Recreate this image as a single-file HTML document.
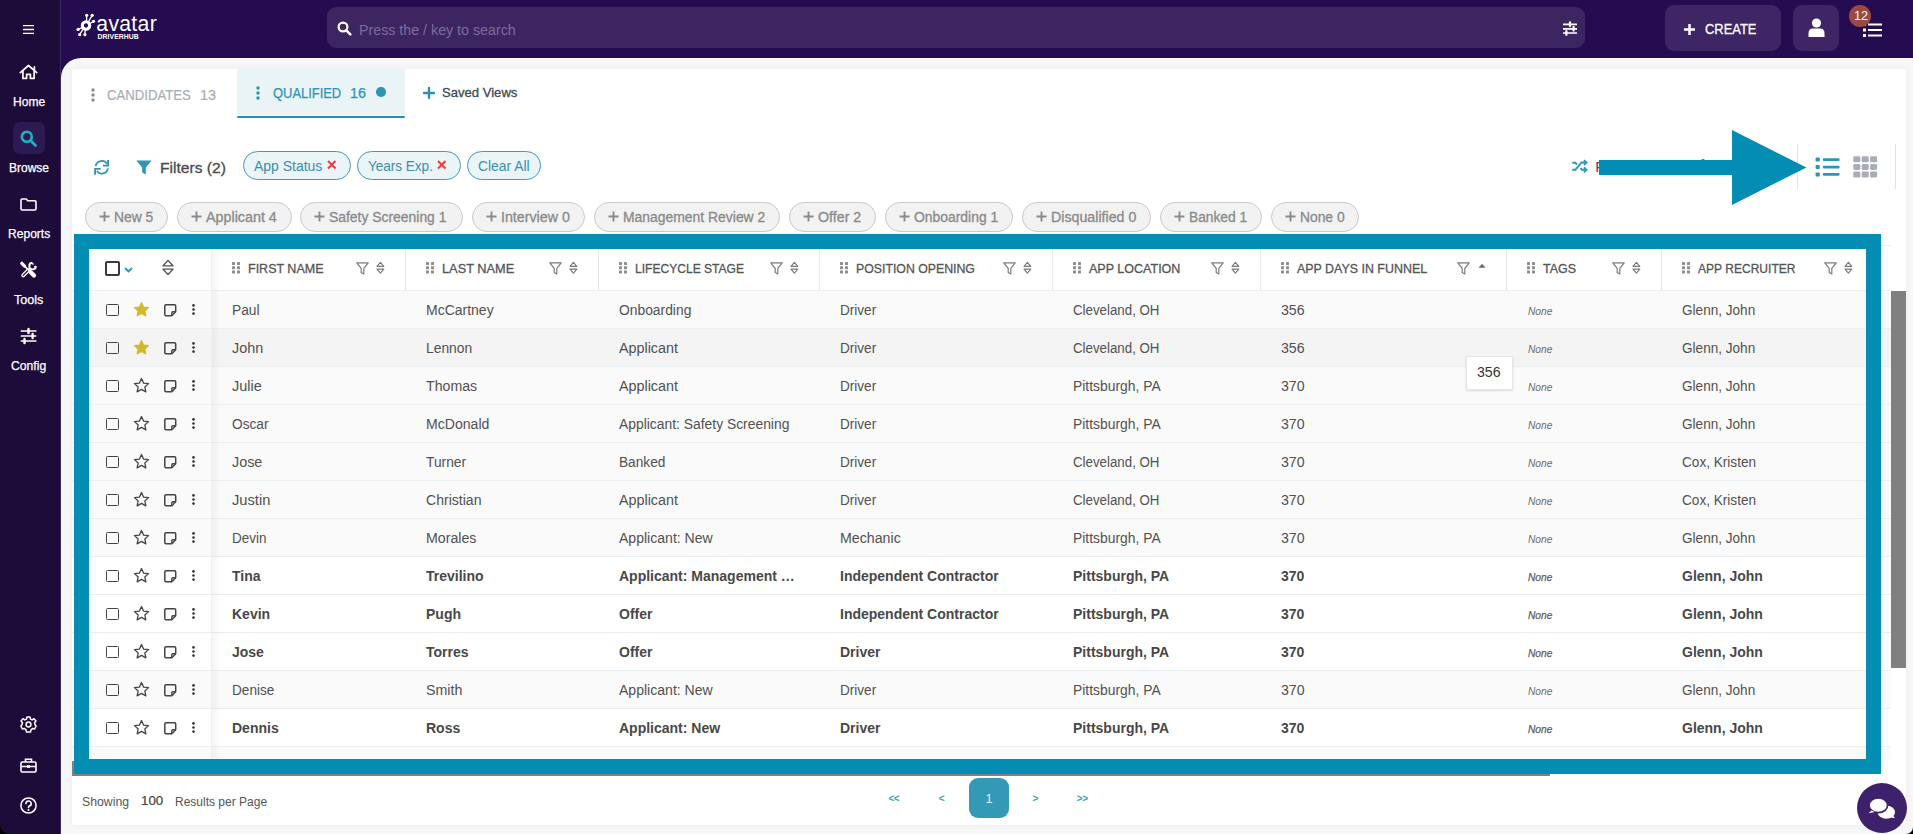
<!DOCTYPE html>
<html><head><meta charset="utf-8"><title>Avatar DriverHub</title>
<style>
html,body{margin:0;padding:0;width:1913px;height:834px;overflow:hidden;background:#250b4f;}
body{position:relative;font-family:"Liberation Sans", Arial, sans-serif;}
.a{position:absolute;}
.t{position:absolute;white-space:nowrap;font-family:"Liberation Sans", Arial, sans-serif;}
svg.a{overflow:visible;}
</style></head><body>
<div class="a" style="left:0px;top:0px;width:60px;height:834px;background:#1d0c3a"></div>
<div class="a" style="left:60px;top:0px;width:1px;height:834px;background:#3b2a5d"></div>
<div class="a" style="left:61px;top:0px;width:1852px;height:60px;background:#250b4f"></div>
<div class="a" style="left:61px;top:58px;width:1852px;height:776px;background:#f7f7f7;border-top-left-radius:20px"></div>
<div class="a" style="left:81px;top:58px;width:1832px;height:1px;background:#ffffff"></div>
<div class="a" style="left:72px;top:69px;width:1834px;height:756px;background:#fff;border-radius:3px;box-shadow:0 0 7px rgba(0,0,0,0.05)"></div>
<svg class="a" style="left:22px;top:24px;" width="13" height="11" viewBox="0 0 13 11"><path d="M1 1.7H12M1 5.5H12M1 9.3H12" stroke="#ffffff" stroke-width="1.3" fill="none"/></svg>
<svg class="a" style="left:19px;top:64px;" width="19" height="16" viewBox="0 0 19 16"><path d="M1.3 8.6L9.5 1.5L17.7 8.6M3.9 6.6V14.4H7.6V10.3H11.4V14.4H15.1V6.6M15.4 6.3V2.8" stroke="#ffffff" stroke-width="1.7" fill="none" stroke-linejoin="round" stroke-linecap="round"/></svg>
<div class="t " style="left:13px;top:95.84px;font-size:12.0px;line-height:12.0px;color:#ffffff;font-weight:normal;-webkit-text-stroke:0.25px #ffffff;transform:scaleX(1.0059);transform-origin:0 0;">Home</div>
<div class="a" style="left:13px;top:122px;width:32px;height:32px;background:#2e1a52;border-radius:7px"></div>
<svg class="a" style="left:20px;top:130px;" width="17" height="17" viewBox="0 0 17 17"><circle cx="6.8" cy="6.8" r="5" stroke="#19b3c6" stroke-width="2.6" fill="none"/><path d="M10.5 10.5L15.5 15.5" stroke="#19b3c6" stroke-width="2.8" stroke-linecap="round"/></svg>
<div class="t " style="left:8.6px;top:162.04px;font-size:12.0px;line-height:12.0px;color:#ffffff;font-weight:normal;-webkit-text-stroke:0.25px #ffffff;transform:scaleX(0.9996);transform-origin:0 0;">Browse</div>
<svg class="a" style="left:20px;top:198px;" width="17" height="13" viewBox="0 0 17 13"><path d="M1 2.2Q1 1 2.2 1H6.2L7.8 2.8H14.8Q16 2.8 16 4V10.8Q16 12 14.8 12H2.2Q1 12 1 10.8Z" stroke="#ffffff" stroke-width="1.6" fill="none" stroke-linejoin="round"/></svg>
<div class="t " style="left:7.7px;top:228.14px;font-size:12.0px;line-height:12.0px;color:#ffffff;font-weight:normal;-webkit-text-stroke:0.25px #ffffff;transform:scaleX(1.0052);transform-origin:0 0;">Reports</div>
<svg class="a" style="left:20px;top:262px;" width="17" height="16" viewBox="0 0 17 16"><path d="M3.2 13.4L8.6 8" stroke="#ffffff" stroke-width="3.9" stroke-linecap="round"/><path d="M3.2 13.4L8.6 8" stroke="#1d0c3a" stroke-width="1.3" stroke-linecap="round"/><path d="M15.9 4.2A3.3 3.3 0 1 1 12.2 0.8" stroke="#ffffff" stroke-width="1.9" fill="none"/><path d="M12.2 0.8L13.4 2.6M15.9 4.2L14.2 5.2" stroke="#ffffff" stroke-width="1.4"/><path d="M1.8 1.3L4.6 4.1" stroke="#ffffff" stroke-width="3.2" stroke-linecap="round"/><path d="M4.6 4.1L10.4 9.9" stroke="#ffffff" stroke-width="1.5"/><path d="M10.8 10.3L14 13.5" stroke="#ffffff" stroke-width="4.2" stroke-linecap="round"/></svg>
<div class="t " style="left:13.9px;top:294.14px;font-size:12.0px;line-height:12.0px;color:#ffffff;font-weight:normal;-webkit-text-stroke:0.25px #ffffff;transform:scaleX(1.0480);transform-origin:0 0;">Tools</div>
<svg class="a" style="left:20px;top:329px;" width="17" height="14" viewBox="0 0 17 14"><path d="M0.7 2H16.4M0.7 7H16.4M0.7 12H16.4" stroke="#ffffff" stroke-width="1.7"/><path d="M8.5 0V4M12.6 5V9M4.5 10V14" stroke="#ffffff" stroke-width="2.4" stroke-linecap="round"/></svg>
<div class="t " style="left:10.8px;top:360.14px;font-size:12.0px;line-height:12.0px;color:#ffffff;font-weight:normal;-webkit-text-stroke:0.25px #ffffff;transform:scaleX(1.0131);transform-origin:0 0;">Config</div>
<svg class="a" style="left:20px;top:716px;" width="17" height="17" viewBox="0 0 17 17"><g transform="translate(8.5 8.5)" stroke="#ffffff" stroke-width="1.5" fill="none" stroke-linejoin="round"><path d="M-1.5 -7.5H1.5L2 -5.4L3.6 -4.6L5.5 -5.8L7.5 -3.6L6 -1.8L6.4 0L7.6 1.5L6.2 4.4L4.2 3.9L2.5 5.3L2 7.5H-2L-2.5 5.3L-4.2 3.9L-6.2 4.4L-7.6 1.5L-6.4 0L-6 -1.8L-7.5 -3.6L-5.5 -5.8L-3.6 -4.6L-2 -5.4Z"/><circle r="2.4"/></g></svg>
<svg class="a" style="left:20px;top:758px;" width="17" height="15" viewBox="0 0 17 15"><rect x="1" y="4" width="15" height="10" rx="1.2" stroke="#ffffff" stroke-width="1.6" fill="none"/><path d="M5.5 4V1.2H11.5V4M1 8.5H16" stroke="#ffffff" stroke-width="1.6" fill="none"/><rect x="7" y="7.2" width="3" height="2.6" fill="#ffffff"/></svg>
<svg class="a" style="left:20px;top:797px;" width="17" height="17" viewBox="0 0 17 17"><circle cx="8.5" cy="8.5" r="7.6" stroke="#ffffff" stroke-width="1.5" fill="none"/><path d="M6 6.6A2.6 2.6 0 1 1 9.4 9.1Q8.5 9.5 8.5 10.6" stroke="#ffffff" stroke-width="1.6" fill="none" stroke-linecap="round"/><circle cx="8.5" cy="12.9" r="1" fill="#ffffff"/></svg>
<svg class="a" style="left:76px;top:13px;" width="22" height="24" viewBox="0 0 22 24"><g stroke="#ffffff" fill="none" stroke-width="1.3"><circle cx="10" cy="12.5" r="3.7" stroke-width="3.1"/><path d="M10.6 2.3V8.2M16.2 2.3L12.6 8.6M17.5 8.3L13.8 10.6M2.1 16.4L6.3 14.6M3.7 21.7L7.2 15.8M8.9 21.7L9.2 16.6"/></g><g fill="#ffffff"><circle cx="10.7" cy="2.3" r="1.6"/><circle cx="16.2" cy="2.3" r="1.6"/><circle cx="17.5" cy="8.3" r="1.6"/><circle cx="2.1" cy="16.4" r="1.6"/><circle cx="3.7" cy="21.7" r="1.6"/><circle cx="8.9" cy="21.7" r="1.6"/></g></svg>
<div class="t " style="left:96.3px;top:13.45px;font-size:21.2px;line-height:21.2px;color:#ffffff;font-weight:normal;letter-spacing:0.3px;">avatar</div>
<div class="t " style="left:97.6px;top:33.56px;font-size:6.9px;line-height:6.9px;color:#ffffff;font-weight:bold;letter-spacing:0.02px;">DRIVERHUB</div>
<div class="a" style="left:327px;top:7px;width:1258px;height:41px;background:#3d2562;border-radius:9px"></div>
<svg class="a" style="left:336.6px;top:21.3px;" width="15" height="15" viewBox="0 0 15 15"><circle cx="6" cy="6" r="4.4" stroke="#ffffff" stroke-width="2.2" fill="none"/><path d="M9.3 9.3L13.3 13.3" stroke="#ffffff" stroke-width="2.6" stroke-linecap="round"/></svg>
<div class="t " style="left:359px;top:22.50px;font-size:14.3px;line-height:14.3px;color:#7f6c9c;font-weight:normal;transform:scaleX(0.9959);transform-origin:0 0;">Press the / key to search</div>
<svg class="a" style="left:1562px;top:22px;" width="15" height="13" viewBox="0 0 15 13"><path d="M1 2.3H15M1 6.8H15M1 11H15" stroke="#ffffff" stroke-width="1.7"/><path d="M8 0.5V4.1M11.6 5V8.6M4.4 9.2V12.8" stroke="#ffffff" stroke-width="2.3" stroke-linecap="round"/></svg>
<div class="a" style="left:1665px;top:5px;width:116px;height:46px;background:#3e2563;border-radius:9px"></div>
<svg class="a" style="left:1683.6px;top:23.8px;" width="11" height="11" viewBox="0 0 11 11"><path d="M5.5 0V11M0 5.5H11" stroke="#ffffff" stroke-width="2.5"/></svg>
<div class="t " style="left:1704.6px;top:21.88px;font-size:14.2px;line-height:14.2px;color:#ffffff;font-weight:normal;-webkit-text-stroke:0.3px #ffffff;transform:scaleX(0.9098);transform-origin:0 0;">CREATE</div>
<div class="a" style="left:1793px;top:5px;width:46px;height:46px;background:#3e2563;border-radius:9px"></div>
<svg class="a" style="left:1808px;top:18px;" width="17" height="20" viewBox="0 0 17 20"><circle cx="8.5" cy="5" r="4.6" fill="#ffffff"/><path d="M0.5 19V15.5Q0.5 10.6 5 10.6H12Q16.5 10.6 16.5 15.5V19Z" fill="#ffffff"/></svg>
<svg class="a" style="left:1863px;top:23px;" width="19" height="14" viewBox="0 0 19 14"><g fill="#ffffff"><rect x="0" y="0" width="3" height="3"/><rect x="0" y="5.5" width="3" height="3"/><rect x="0" y="11" width="3" height="3"/><rect x="5" y="0.5" width="14" height="2"/><rect x="5" y="6" width="14" height="2"/><rect x="5" y="11.5" width="14" height="2"/></g></svg>
<div class="a" style="left:1849px;top:5px;width:22px;height:22px;background:#9e4843;border-radius:50%"></div>
<div class="t " style="left:1853.5px;top:9.62px;font-size:12.5px;line-height:12.5px;color:#fff;font-weight:normal;transform:scaleX(1.0112);transform-origin:0 0;">12</div>
<svg class="a" style="left:91px;top:88px;" width="4" height="14" viewBox="0 0 4 14"><circle cx="2" cy="2" r="1.7" fill="#8c8c8c"/><circle cx="2" cy="7.0" r="1.7" fill="#8c8c8c"/><circle cx="2" cy="12" r="1.7" fill="#8c8c8c"/></svg>
<div class="t " style="left:107px;top:88.15px;font-size:14.0px;line-height:14.0px;color:#a7aeb6;font-weight:normal;-webkit-text-stroke:0.2px #a7aeb6;transform:scaleX(0.9396);transform-origin:0 0;">CANDIDATES</div>
<div class="t " style="left:199.5px;top:88.15px;font-size:14.0px;line-height:14.0px;color:#a7aeb6;font-weight:normal;-webkit-text-stroke:0.2px #a7aeb6;transform:scaleX(1.0221);transform-origin:0 0;">13</div>
<div class="a" style="left:237px;top:69px;width:168px;height:46px;background:#eaf3f6"></div>
<div class="a" style="left:237px;top:115.7px;width:168px;height:2.3px;background:#2191b0;border-radius:1.2px"></div>
<svg class="a" style="left:256px;top:86px;" width="4" height="14" viewBox="0 0 4 14"><circle cx="2" cy="2" r="1.7" fill="#2b92b1"/><circle cx="2" cy="7.0" r="1.7" fill="#2b92b1"/><circle cx="2" cy="12" r="1.7" fill="#2b92b1"/></svg>
<div class="t " style="left:272.5px;top:86.15px;font-size:14.0px;line-height:14.0px;color:#2f95b3;font-weight:normal;-webkit-text-stroke:0.25px #2f95b3;transform:scaleX(0.9228);transform-origin:0 0;">QUALIFIED</div>
<div class="t " style="left:349.5px;top:86.15px;font-size:14.0px;line-height:14.0px;color:#2f95b3;font-weight:normal;-webkit-text-stroke:0.25px #2f95b3;transform:scaleX(1.0221);transform-origin:0 0;">16</div>
<div class="a" style="left:376.2px;top:87px;width:9.6px;height:9.6px;background:#2b96b4;border-radius:50%"></div>
<svg class="a" style="left:423px;top:87.2px;" width="12" height="12" viewBox="0 0 12 12"><path d="M6 1V11M1 6H11" stroke="#2b92b1" stroke-width="2.3" stroke-linecap="round"/></svg>
<div class="t " style="left:442px;top:85.94px;font-size:13.3px;line-height:13.3px;color:#414951;font-weight:normal;-webkit-text-stroke:0.3px #414951;transform:scaleX(0.9835);transform-origin:0 0;">Saved Views</div>
<svg class="a" style="left:93px;top:159px;" width="17" height="16" viewBox="0 0 17 16"><g stroke="#2f95b3" stroke-width="1.8" fill="none"><path d="M2.62 7.0A6.3 6.3 0 0 1 14.02 4.68"/><path d="M14.98 9.4A6.3 6.3 0 0 1 3.77 11.99"/><path d="M10 6.7H15.1V0.9"/><path d="M2.1 15.8V9.9H7.6"/></g></svg>
<svg class="a" style="left:136px;top:160px;" width="16" height="15" viewBox="0 0 16 15"><path d="M0.3 0.5H15.7L9.8 7.4V14.6L6.2 12.4V7.4Z" fill="#2f95b3"/></svg>
<div class="t " style="left:159.5px;top:160.45px;font-size:15.3px;line-height:15.3px;color:#4a4a4a;font-weight:normal;-webkit-text-stroke:0.3px #4a4a4a;transform:scaleX(1.0208);transform-origin:0 0;">Filters (2)</div>
<div class="a" style="left:243px;top:151px;width:108px;height:29px;background:#ebf4f7;border:1.2px solid #3f9ab7;border-radius:15px;box-sizing:border-box"></div>
<div class="t " style="left:254px;top:159.05px;font-size:14.0px;line-height:14.0px;color:#3a8fae;font-weight:normal;transform:scaleX(0.9979);transform-origin:0 0;">App Status</div>
<svg class="a" style="left:327px;top:159.6px;" width="9.5" height="9.5" viewBox="0 0 9.5 9.5"><path d="M1 1L8.5 8.5M8.5 1L1 8.5" stroke="#f03e3e" stroke-width="2.1"/></svg>
<div class="a" style="left:357px;top:151px;width:104px;height:29px;background:#ebf4f7;border:1.2px solid #3f9ab7;border-radius:15px;box-sizing:border-box"></div>
<div class="t " style="left:368px;top:159.05px;font-size:14.0px;line-height:14.0px;color:#3a8fae;font-weight:normal;transform:scaleX(0.9658);transform-origin:0 0;">Years Exp.</div>
<svg class="a" style="left:437px;top:159.6px;" width="9.5" height="9.5" viewBox="0 0 9.5 9.5"><path d="M1 1L8.5 8.5M8.5 1L1 8.5" stroke="#f03e3e" stroke-width="2.1"/></svg>
<div class="a" style="left:467px;top:151px;width:74px;height:29px;background:#ebf4f7;border:1.2px solid #3f9ab7;border-radius:15px;box-sizing:border-box"></div>
<div class="t " style="left:478px;top:159.05px;font-size:14.0px;line-height:14.0px;color:#3a8fae;font-weight:normal;transform:scaleX(0.9919);transform-origin:0 0;">Clear All</div>
<svg class="a" style="left:1572px;top:159px;" width="16" height="14" viewBox="0 0 16 14"><g stroke="#2f95b3" stroke-width="1.9" fill="none"><path d="M0.2 3.8H3.4L5 5.6"/><path d="M0.2 10.8H3.4L9.5 3.5H13"/><path d="M8.7 9.1L9.9 10.8H13"/><path d="M12 1.2L14.5 3.6L12 6.1"/><path d="M12 8.3L14.5 10.8L12 13.3"/></g></svg>
<div class="t " style="left:1595.3px;top:159.53px;font-size:14.5px;line-height:14.5px;color:#454c55;font-weight:normal;">F</div>
<div class="a" style="left:1701px;top:158.6px;width:4.2px;height:2.2px;background:#0a7a9c;border-radius:2px 2px 0 0"></div>
<div class="a" style="left:1797px;top:144px;width:1px;height:45px;background:#dfe2e5"></div>
<div class="a" style="left:1895px;top:144px;width:1px;height:45px;background:#dfe2e5"></div>
<svg class="a" style="left:1815px;top:157px;" width="25" height="20" viewBox="0 0 25 20"><g fill="#2f95b3"><rect x="0.6" y="0.6" width="4.2" height="4" rx="0.9"/><rect x="0.6" y="8" width="4.2" height="4" rx="0.9"/><rect x="0.6" y="15.4" width="4.2" height="4" rx="0.9"/><rect x="7.8" y="1.3" width="16.8" height="2.7" rx="1.1"/><rect x="7.8" y="8.7" width="16.8" height="2.7" rx="1.1"/><rect x="7.8" y="16.1" width="16.8" height="2.7" rx="1.1"/></g></svg>
<svg class="a" style="left:1853px;top:156px;" width="25" height="22" viewBox="0 0 25 22"><g fill="#a9aeb6"><rect x="0.3" y="0.3" width="7" height="6" rx="1.3"/><rect x="8.700000000000001" y="0.3" width="7" height="6" rx="1.3"/><rect x="17.1" y="0.3" width="7" height="6" rx="1.3"/><rect x="0.3" y="7.8999999999999995" width="7" height="6" rx="1.3"/><rect x="8.700000000000001" y="7.8999999999999995" width="7" height="6" rx="1.3"/><rect x="17.1" y="7.8999999999999995" width="7" height="6" rx="1.3"/><rect x="0.3" y="15.5" width="7" height="6" rx="1.3"/><rect x="8.700000000000001" y="15.5" width="7" height="6" rx="1.3"/><rect x="17.1" y="15.5" width="7" height="6" rx="1.3"/></g></svg>
<div class="a" style="left:85px;top:202px;width:83px;height:30px;background:#f2f2f2;border:1px solid #c9c9c9;border-radius:15px;box-sizing:border-box"></div>
<svg class="a" style="left:99px;top:211.3px;" width="11" height="11" viewBox="0 0 11 11"><path d="M5.5 0.5V10.5M0.5 5.5H10.5" stroke="#8a8a8a" stroke-width="1.9"/></svg>
<div class="t " style="left:114px;top:210.35px;font-size:14.0px;line-height:14.0px;color:#8a8a8a;font-weight:normal;-webkit-text-stroke:0.3px #8a8a8a;transform:scaleX(0.9894);transform-origin:0 0;">New 5</div>
<div class="a" style="left:177px;top:202px;width:115px;height:30px;background:#f2f2f2;border:1px solid #c9c9c9;border-radius:15px;box-sizing:border-box"></div>
<svg class="a" style="left:191px;top:211.3px;" width="11" height="11" viewBox="0 0 11 11"><path d="M5.5 0.5V10.5M0.5 5.5H10.5" stroke="#8a8a8a" stroke-width="1.9"/></svg>
<div class="t " style="left:206px;top:210.35px;font-size:14.0px;line-height:14.0px;color:#8a8a8a;font-weight:normal;-webkit-text-stroke:0.3px #8a8a8a;transform:scaleX(1.0219);transform-origin:0 0;">Applicant 4</div>
<div class="a" style="left:300px;top:202px;width:163px;height:30px;background:#f2f2f2;border:1px solid #c9c9c9;border-radius:15px;box-sizing:border-box"></div>
<svg class="a" style="left:314px;top:211.3px;" width="11" height="11" viewBox="0 0 11 11"><path d="M5.5 0.5V10.5M0.5 5.5H10.5" stroke="#8a8a8a" stroke-width="1.9"/></svg>
<div class="t " style="left:329px;top:210.35px;font-size:14.0px;line-height:14.0px;color:#8a8a8a;font-weight:normal;-webkit-text-stroke:0.3px #8a8a8a;transform:scaleX(0.9927);transform-origin:0 0;">Safety Screening 1</div>
<div class="a" style="left:472px;top:202px;width:113px;height:30px;background:#f2f2f2;border:1px solid #c9c9c9;border-radius:15px;box-sizing:border-box"></div>
<svg class="a" style="left:486px;top:211.3px;" width="11" height="11" viewBox="0 0 11 11"><path d="M5.5 0.5V10.5M0.5 5.5H10.5" stroke="#8a8a8a" stroke-width="1.9"/></svg>
<div class="t " style="left:501px;top:210.35px;font-size:14.0px;line-height:14.0px;color:#8a8a8a;font-weight:normal;-webkit-text-stroke:0.3px #8a8a8a;transform:scaleX(1.0168);transform-origin:0 0;">Interview 0</div>
<div class="a" style="left:594px;top:202px;width:186px;height:30px;background:#f2f2f2;border:1px solid #c9c9c9;border-radius:15px;box-sizing:border-box"></div>
<svg class="a" style="left:608px;top:211.3px;" width="11" height="11" viewBox="0 0 11 11"><path d="M5.5 0.5V10.5M0.5 5.5H10.5" stroke="#8a8a8a" stroke-width="1.9"/></svg>
<div class="t " style="left:623px;top:210.35px;font-size:14.0px;line-height:14.0px;color:#8a8a8a;font-weight:normal;-webkit-text-stroke:0.3px #8a8a8a;transform:scaleX(0.9936);transform-origin:0 0;">Management Review 2</div>
<div class="a" style="left:789px;top:202px;width:87px;height:30px;background:#f2f2f2;border:1px solid #c9c9c9;border-radius:15px;box-sizing:border-box"></div>
<svg class="a" style="left:803px;top:211.3px;" width="11" height="11" viewBox="0 0 11 11"><path d="M5.5 0.5V10.5M0.5 5.5H10.5" stroke="#8a8a8a" stroke-width="1.9"/></svg>
<div class="t " style="left:818px;top:210.35px;font-size:14.0px;line-height:14.0px;color:#8a8a8a;font-weight:normal;-webkit-text-stroke:0.3px #8a8a8a;transform:scaleX(1.0169);transform-origin:0 0;">Offer 2</div>
<div class="a" style="left:885px;top:202px;width:128px;height:30px;background:#f2f2f2;border:1px solid #c9c9c9;border-radius:15px;box-sizing:border-box"></div>
<svg class="a" style="left:899px;top:211.3px;" width="11" height="11" viewBox="0 0 11 11"><path d="M5.5 0.5V10.5M0.5 5.5H10.5" stroke="#8a8a8a" stroke-width="1.9"/></svg>
<div class="t " style="left:914px;top:210.35px;font-size:14.0px;line-height:14.0px;color:#8a8a8a;font-weight:normal;-webkit-text-stroke:0.3px #8a8a8a;transform:scaleX(0.9930);transform-origin:0 0;">Onboarding 1</div>
<div class="a" style="left:1022px;top:202px;width:129px;height:30px;background:#f2f2f2;border:1px solid #c9c9c9;border-radius:15px;box-sizing:border-box"></div>
<svg class="a" style="left:1036px;top:211.3px;" width="11" height="11" viewBox="0 0 11 11"><path d="M5.5 0.5V10.5M0.5 5.5H10.5" stroke="#8a8a8a" stroke-width="1.9"/></svg>
<div class="t " style="left:1051px;top:210.35px;font-size:14.0px;line-height:14.0px;color:#8a8a8a;font-weight:normal;-webkit-text-stroke:0.3px #8a8a8a;transform:scaleX(1.0149);transform-origin:0 0;">Disqualified 0</div>
<div class="a" style="left:1160px;top:202px;width:102px;height:30px;background:#f2f2f2;border:1px solid #c9c9c9;border-radius:15px;box-sizing:border-box"></div>
<svg class="a" style="left:1174px;top:211.3px;" width="11" height="11" viewBox="0 0 11 11"><path d="M5.5 0.5V10.5M0.5 5.5H10.5" stroke="#8a8a8a" stroke-width="1.9"/></svg>
<div class="t " style="left:1189px;top:210.35px;font-size:14.0px;line-height:14.0px;color:#8a8a8a;font-weight:normal;-webkit-text-stroke:0.3px #8a8a8a;transform:scaleX(0.9831);transform-origin:0 0;">Banked 1</div>
<div class="a" style="left:1271px;top:202px;width:88px;height:30px;background:#f2f2f2;border:1px solid #c9c9c9;border-radius:15px;box-sizing:border-box"></div>
<svg class="a" style="left:1285px;top:211.3px;" width="11" height="11" viewBox="0 0 11 11"><path d="M5.5 0.5V10.5M0.5 5.5H10.5" stroke="#8a8a8a" stroke-width="1.9"/></svg>
<div class="t " style="left:1300px;top:210.35px;font-size:14.0px;line-height:14.0px;color:#8a8a8a;font-weight:normal;-webkit-text-stroke:0.3px #8a8a8a;transform:scaleX(0.9879);transform-origin:0 0;">None 0</div>
<div class="a" style="left:0;top:0;width:1913px;height:834px;clip-path:inset(245px 0 73px 0)">
<div class="a" style="left:72px;top:245px;width:1819px;height:1px;background:#e9eef0"></div>
<div class="a" style="left:72px;top:246px;width:1819px;height:44px;background:#fff"></div>
<div class="a" style="left:72px;top:290px;width:1819px;height:1px;background:#e9eef0"></div>
<div class="a" style="left:72px;top:291px;width:1819px;height:37px;background:#fafafa"></div>
<div class="a" style="left:72px;top:328px;width:1819px;height:1px;background:#e9eef0"></div>
<div class="a" style="left:72px;top:329px;width:1819px;height:37px;background:#f4f4f4"></div>
<div class="a" style="left:72px;top:366px;width:1819px;height:1px;background:#e9eef0"></div>
<div class="a" style="left:72px;top:367px;width:1819px;height:37px;background:#fafafa"></div>
<div class="a" style="left:72px;top:404px;width:1819px;height:1px;background:#e9eef0"></div>
<div class="a" style="left:72px;top:405px;width:1819px;height:37px;background:#fafafa"></div>
<div class="a" style="left:72px;top:442px;width:1819px;height:1px;background:#e9eef0"></div>
<div class="a" style="left:72px;top:443px;width:1819px;height:37px;background:#fafafa"></div>
<div class="a" style="left:72px;top:480px;width:1819px;height:1px;background:#e9eef0"></div>
<div class="a" style="left:72px;top:481px;width:1819px;height:37px;background:#fafafa"></div>
<div class="a" style="left:72px;top:518px;width:1819px;height:1px;background:#e9eef0"></div>
<div class="a" style="left:72px;top:519px;width:1819px;height:37px;background:#fafafa"></div>
<div class="a" style="left:72px;top:556px;width:1819px;height:1px;background:#e9eef0"></div>
<div class="a" style="left:72px;top:557px;width:1819px;height:37px;background:#fff"></div>
<div class="a" style="left:72px;top:594px;width:1819px;height:1px;background:#e9eef0"></div>
<div class="a" style="left:72px;top:595px;width:1819px;height:37px;background:#fff"></div>
<div class="a" style="left:72px;top:632px;width:1819px;height:1px;background:#e9eef0"></div>
<div class="a" style="left:72px;top:633px;width:1819px;height:37px;background:#fff"></div>
<div class="a" style="left:72px;top:670px;width:1819px;height:1px;background:#e9eef0"></div>
<div class="a" style="left:72px;top:671px;width:1819px;height:37px;background:#fafafa"></div>
<div class="a" style="left:72px;top:708px;width:1819px;height:1px;background:#e9eef0"></div>
<div class="a" style="left:72px;top:709px;width:1819px;height:37px;background:#fff"></div>
<div class="a" style="left:72px;top:746px;width:1819px;height:1px;background:#e9eef0"></div>
<div class="a" style="left:72px;top:747px;width:1819px;height:37px;background:#fafafa"></div>
<div class="a" style="left:72px;top:784px;width:1819px;height:1px;background:#e9eef0"></div>
<div class="a" style="left:211px;top:246px;width:10px;height:530px;background:linear-gradient(90deg,rgba(0,0,0,0.045),rgba(0,0,0,0))"></div>
<div class="a" style="left:211px;top:246px;width:1px;height:530px;background:#eceff1"></div>
<div class="a" style="left:405px;top:249px;width:1px;height:41px;background:#e3e8eb"></div>
<div class="a" style="left:598px;top:249px;width:1px;height:41px;background:#e3e8eb"></div>
<div class="a" style="left:819px;top:249px;width:1px;height:41px;background:#e3e8eb"></div>
<div class="a" style="left:1052px;top:249px;width:1px;height:41px;background:#e3e8eb"></div>
<div class="a" style="left:1260px;top:249px;width:1px;height:41px;background:#e3e8eb"></div>
<div class="a" style="left:1506px;top:249px;width:1px;height:41px;background:#e3e8eb"></div>
<div class="a" style="left:1661px;top:249px;width:1px;height:41px;background:#e3e8eb"></div>
<svg class="a" style="left:232px;top:261.9px;" width="8" height="11" viewBox="0 0 8 11"><g fill="#8d8d8d"><rect x="0" y="0.0" width="3" height="3" rx="0.4"/><rect x="5" y="0.0" width="3" height="3" rx="0.4"/><rect x="0" y="4.2" width="3" height="3" rx="0.4"/><rect x="5" y="4.2" width="3" height="3" rx="0.4"/><rect x="0" y="8.4" width="3" height="3" rx="0.4"/><rect x="5" y="8.4" width="3" height="3" rx="0.4"/></g></svg>
<div class="t " style="left:248px;top:262.23px;font-size:13.2px;line-height:13.2px;color:#555555;font-weight:normal;-webkit-text-stroke:0.3px #555555;transform:scaleX(0.9482);transform-origin:0 0;">FIRST NAME</div>
<svg class="a" style="left:356px;top:262px;" width="13" height="13" viewBox="0 0 13 13"><path d="M0.8 0.8H12.2L7.8 6.4V12L5.2 10.4V6.4Z" stroke="#7a7a7a" stroke-width="1.2" fill="none" stroke-linejoin="round"/></svg>
<svg class="a" style="left:375.8px;top:261.3px;" width="9" height="13" viewBox="0 0 9 13"><path d="M1 5.3L4.4 1.3L7.8 5.3Z M1 8.1L4.4 12.1L7.8 8.1Z" stroke="#7a7a7a" stroke-width="1.15" fill="none" stroke-linejoin="round"/></svg>
<svg class="a" style="left:426px;top:261.9px;" width="8" height="11" viewBox="0 0 8 11"><g fill="#8d8d8d"><rect x="0" y="0.0" width="3" height="3" rx="0.4"/><rect x="5" y="0.0" width="3" height="3" rx="0.4"/><rect x="0" y="4.2" width="3" height="3" rx="0.4"/><rect x="5" y="4.2" width="3" height="3" rx="0.4"/><rect x="0" y="8.4" width="3" height="3" rx="0.4"/><rect x="5" y="8.4" width="3" height="3" rx="0.4"/></g></svg>
<div class="t " style="left:442px;top:262.23px;font-size:13.2px;line-height:13.2px;color:#555555;font-weight:normal;-webkit-text-stroke:0.3px #555555;transform:scaleX(0.9688);transform-origin:0 0;">LAST NAME</div>
<svg class="a" style="left:549px;top:262px;" width="13" height="13" viewBox="0 0 13 13"><path d="M0.8 0.8H12.2L7.8 6.4V12L5.2 10.4V6.4Z" stroke="#7a7a7a" stroke-width="1.2" fill="none" stroke-linejoin="round"/></svg>
<svg class="a" style="left:568.8px;top:261.3px;" width="9" height="13" viewBox="0 0 9 13"><path d="M1 5.3L4.4 1.3L7.8 5.3Z M1 8.1L4.4 12.1L7.8 8.1Z" stroke="#7a7a7a" stroke-width="1.15" fill="none" stroke-linejoin="round"/></svg>
<svg class="a" style="left:619px;top:261.9px;" width="8" height="11" viewBox="0 0 8 11"><g fill="#8d8d8d"><rect x="0" y="0.0" width="3" height="3" rx="0.4"/><rect x="5" y="0.0" width="3" height="3" rx="0.4"/><rect x="0" y="4.2" width="3" height="3" rx="0.4"/><rect x="5" y="4.2" width="3" height="3" rx="0.4"/><rect x="0" y="8.4" width="3" height="3" rx="0.4"/><rect x="5" y="8.4" width="3" height="3" rx="0.4"/></g></svg>
<div class="t " style="left:635px;top:262.23px;font-size:13.2px;line-height:13.2px;color:#555555;font-weight:normal;-webkit-text-stroke:0.3px #555555;transform:scaleX(0.9144);transform-origin:0 0;">LIFECYCLE STAGE</div>
<svg class="a" style="left:770px;top:262px;" width="13" height="13" viewBox="0 0 13 13"><path d="M0.8 0.8H12.2L7.8 6.4V12L5.2 10.4V6.4Z" stroke="#7a7a7a" stroke-width="1.2" fill="none" stroke-linejoin="round"/></svg>
<svg class="a" style="left:789.8px;top:261.3px;" width="9" height="13" viewBox="0 0 9 13"><path d="M1 5.3L4.4 1.3L7.8 5.3Z M1 8.1L4.4 12.1L7.8 8.1Z" stroke="#7a7a7a" stroke-width="1.15" fill="none" stroke-linejoin="round"/></svg>
<svg class="a" style="left:840px;top:261.9px;" width="8" height="11" viewBox="0 0 8 11"><g fill="#8d8d8d"><rect x="0" y="0.0" width="3" height="3" rx="0.4"/><rect x="5" y="0.0" width="3" height="3" rx="0.4"/><rect x="0" y="4.2" width="3" height="3" rx="0.4"/><rect x="5" y="4.2" width="3" height="3" rx="0.4"/><rect x="0" y="8.4" width="3" height="3" rx="0.4"/><rect x="5" y="8.4" width="3" height="3" rx="0.4"/></g></svg>
<div class="t " style="left:856px;top:262.23px;font-size:13.2px;line-height:13.2px;color:#555555;font-weight:normal;-webkit-text-stroke:0.3px #555555;transform:scaleX(0.9326);transform-origin:0 0;">POSITION OPENING</div>
<svg class="a" style="left:1003px;top:262px;" width="13" height="13" viewBox="0 0 13 13"><path d="M0.8 0.8H12.2L7.8 6.4V12L5.2 10.4V6.4Z" stroke="#7a7a7a" stroke-width="1.2" fill="none" stroke-linejoin="round"/></svg>
<svg class="a" style="left:1022.8px;top:261.3px;" width="9" height="13" viewBox="0 0 9 13"><path d="M1 5.3L4.4 1.3L7.8 5.3Z M1 8.1L4.4 12.1L7.8 8.1Z" stroke="#7a7a7a" stroke-width="1.15" fill="none" stroke-linejoin="round"/></svg>
<svg class="a" style="left:1073px;top:261.9px;" width="8" height="11" viewBox="0 0 8 11"><g fill="#8d8d8d"><rect x="0" y="0.0" width="3" height="3" rx="0.4"/><rect x="5" y="0.0" width="3" height="3" rx="0.4"/><rect x="0" y="4.2" width="3" height="3" rx="0.4"/><rect x="5" y="4.2" width="3" height="3" rx="0.4"/><rect x="0" y="8.4" width="3" height="3" rx="0.4"/><rect x="5" y="8.4" width="3" height="3" rx="0.4"/></g></svg>
<div class="t " style="left:1089px;top:262.23px;font-size:13.2px;line-height:13.2px;color:#555555;font-weight:normal;-webkit-text-stroke:0.3px #555555;transform:scaleX(0.9497);transform-origin:0 0;">APP LOCATION</div>
<svg class="a" style="left:1211px;top:262px;" width="13" height="13" viewBox="0 0 13 13"><path d="M0.8 0.8H12.2L7.8 6.4V12L5.2 10.4V6.4Z" stroke="#7a7a7a" stroke-width="1.2" fill="none" stroke-linejoin="round"/></svg>
<svg class="a" style="left:1230.8px;top:261.3px;" width="9" height="13" viewBox="0 0 9 13"><path d="M1 5.3L4.4 1.3L7.8 5.3Z M1 8.1L4.4 12.1L7.8 8.1Z" stroke="#7a7a7a" stroke-width="1.15" fill="none" stroke-linejoin="round"/></svg>
<svg class="a" style="left:1281px;top:261.9px;" width="8" height="11" viewBox="0 0 8 11"><g fill="#8d8d8d"><rect x="0" y="0.0" width="3" height="3" rx="0.4"/><rect x="5" y="0.0" width="3" height="3" rx="0.4"/><rect x="0" y="4.2" width="3" height="3" rx="0.4"/><rect x="5" y="4.2" width="3" height="3" rx="0.4"/><rect x="0" y="8.4" width="3" height="3" rx="0.4"/><rect x="5" y="8.4" width="3" height="3" rx="0.4"/></g></svg>
<div class="t " style="left:1297px;top:262.23px;font-size:13.2px;line-height:13.2px;color:#555555;font-weight:normal;-webkit-text-stroke:0.3px #555555;transform:scaleX(0.9425);transform-origin:0 0;">APP DAYS IN FUNNEL</div>
<svg class="a" style="left:1457px;top:262px;" width="13" height="13" viewBox="0 0 13 13"><path d="M0.8 0.8H12.2L7.8 6.4V12L5.2 10.4V6.4Z" stroke="#7a7a7a" stroke-width="1.2" fill="none" stroke-linejoin="round"/></svg>
<svg class="a" style="left:1478px;top:262.5px;" width="8" height="5" viewBox="0 0 8 5"><path d="M0.5 4.8L4 0.8L7.5 4.8Z" fill="#6a6a6a"/></svg>
<svg class="a" style="left:1527px;top:261.9px;" width="8" height="11" viewBox="0 0 8 11"><g fill="#8d8d8d"><rect x="0" y="0.0" width="3" height="3" rx="0.4"/><rect x="5" y="0.0" width="3" height="3" rx="0.4"/><rect x="0" y="4.2" width="3" height="3" rx="0.4"/><rect x="5" y="4.2" width="3" height="3" rx="0.4"/><rect x="0" y="8.4" width="3" height="3" rx="0.4"/><rect x="5" y="8.4" width="3" height="3" rx="0.4"/></g></svg>
<div class="t " style="left:1543px;top:262.23px;font-size:13.2px;line-height:13.2px;color:#555555;font-weight:normal;-webkit-text-stroke:0.3px #555555;transform:scaleX(0.9463);transform-origin:0 0;">TAGS</div>
<svg class="a" style="left:1612px;top:262px;" width="13" height="13" viewBox="0 0 13 13"><path d="M0.8 0.8H12.2L7.8 6.4V12L5.2 10.4V6.4Z" stroke="#7a7a7a" stroke-width="1.2" fill="none" stroke-linejoin="round"/></svg>
<svg class="a" style="left:1631.8px;top:261.3px;" width="9" height="13" viewBox="0 0 9 13"><path d="M1 5.3L4.4 1.3L7.8 5.3Z M1 8.1L4.4 12.1L7.8 8.1Z" stroke="#7a7a7a" stroke-width="1.15" fill="none" stroke-linejoin="round"/></svg>
<svg class="a" style="left:1682px;top:261.9px;" width="8" height="11" viewBox="0 0 8 11"><g fill="#8d8d8d"><rect x="0" y="0.0" width="3" height="3" rx="0.4"/><rect x="5" y="0.0" width="3" height="3" rx="0.4"/><rect x="0" y="4.2" width="3" height="3" rx="0.4"/><rect x="5" y="4.2" width="3" height="3" rx="0.4"/><rect x="0" y="8.4" width="3" height="3" rx="0.4"/><rect x="5" y="8.4" width="3" height="3" rx="0.4"/></g></svg>
<div class="t " style="left:1698px;top:262.23px;font-size:13.2px;line-height:13.2px;color:#555555;font-weight:normal;-webkit-text-stroke:0.3px #555555;transform:scaleX(0.9132);transform-origin:0 0;">APP RECRUITER</div>
<svg class="a" style="left:1824px;top:262px;" width="13" height="13" viewBox="0 0 13 13"><path d="M0.8 0.8H12.2L7.8 6.4V12L5.2 10.4V6.4Z" stroke="#7a7a7a" stroke-width="1.2" fill="none" stroke-linejoin="round"/></svg>
<svg class="a" style="left:1843.8px;top:261.3px;" width="9" height="13" viewBox="0 0 9 13"><path d="M1 5.3L4.4 1.3L7.8 5.3Z M1 8.1L4.4 12.1L7.8 8.1Z" stroke="#7a7a7a" stroke-width="1.15" fill="none" stroke-linejoin="round"/></svg>
<div class="a" style="left:105px;top:261px;width:15px;height:15px;border:2px solid #3a3a3a;border-radius:2px;box-sizing:border-box"></div>
<svg class="a" style="left:124px;top:267px;" width="9" height="6" viewBox="0 0 9 6"><path d="M1 1L4.5 4.5L8 1" stroke="#2f95b3" stroke-width="1.8" fill="none"/></svg>
<svg class="a" style="left:162px;top:259px;" width="12" height="17" viewBox="0 0 12 17"><path d="M1 6.8L6 1.5L11 6.8Z M1 10.2L6 15.5L11 10.2Z" stroke="#555" stroke-width="1.3" fill="none" stroke-linejoin="round"/></svg>
<div class="a" style="left:106px;top:303.5px;width:12.5px;height:12.5px;border:1.6px solid #444;border-radius:1.5px;box-sizing:border-box"></div>
<svg class="a" style="left:133.5px;top:302.2px;" width="15" height="15" viewBox="0 0 15 15"><polygon points="7.50,0.50 9.56,5.07 14.54,5.61 10.83,8.98 11.85,13.89 7.50,11.40 3.15,13.89 4.17,8.98 0.46,5.61 5.44,5.07" fill="#d4b82c" stroke="#d4b82c" stroke-width="1.1" stroke-linejoin="round"/></svg>
<svg class="a" style="left:164px;top:303.5px;" width="12.5" height="12.5" viewBox="0 0 12.5 12.5"><path d="M2 0.8H10.5Q11.7 0.8 11.7 2V7.8L7.8 11.7H2Q0.8 11.7 0.8 10.5V2Q0.8 0.8 2 0.8Z" stroke="#444" stroke-width="1.5" fill="none" stroke-linejoin="round"/><path d="M11.7 7.8H8.8Q7.8 7.8 7.8 8.8V11.7" stroke="#444" stroke-width="1.4" fill="none"/></svg>
<svg class="a" style="left:191.5px;top:304.0px;" width="3" height="11" viewBox="0 0 3 11"><circle cx="1.5" cy="1.4" r="1.3" fill="#333"/><circle cx="1.5" cy="5.5" r="1.3" fill="#333"/><circle cx="1.5" cy="9.6" r="1.3" fill="#333"/></svg>
<div class="t " style="left:232px;top:303.35px;font-size:14.0px;line-height:14.0px;color:#515151;font-weight:normal;transform:scaleX(0.9810);transform-origin:0 0;">Paul</div>
<div class="t " style="left:426px;top:303.35px;font-size:14.0px;line-height:14.0px;color:#515151;font-weight:normal;transform:scaleX(0.9993);transform-origin:0 0;">McCartney</div>
<div class="t " style="left:619px;top:303.35px;font-size:14.0px;line-height:14.0px;color:#515151;font-weight:normal;transform:scaleX(0.9887);transform-origin:0 0;">Onboarding</div>
<div class="t " style="left:840px;top:303.35px;font-size:14.0px;line-height:14.0px;color:#515151;font-weight:normal;transform:scaleX(0.9695);transform-origin:0 0;">Driver</div>
<div class="t " style="left:1073px;top:303.35px;font-size:14.0px;line-height:14.0px;color:#515151;font-weight:normal;transform:scaleX(0.9497);transform-origin:0 0;">Cleveland, OH</div>
<div class="t " style="left:1281px;top:303.35px;font-size:14.0px;line-height:14.0px;color:#515151;font-weight:normal;transform:scaleX(1.0107);transform-origin:0 0;">356</div>
<div class="t " style="left:1527.5px;top:306.03px;font-size:10.6px;line-height:10.6px;color:#6a6a6a;font-weight:normal;font-style:italic;transform:scaleX(0.9599);transform-origin:0 0;">None</div>
<div class="t " style="left:1682px;top:303.35px;font-size:14.0px;line-height:14.0px;color:#515151;font-weight:normal;transform:scaleX(0.9698);transform-origin:0 0;">Glenn, John</div>
<div class="a" style="left:106px;top:341.5px;width:12.5px;height:12.5px;border:1.6px solid #444;border-radius:1.5px;box-sizing:border-box"></div>
<svg class="a" style="left:133.5px;top:340.2px;" width="15" height="15" viewBox="0 0 15 15"><polygon points="7.50,0.50 9.56,5.07 14.54,5.61 10.83,8.98 11.85,13.89 7.50,11.40 3.15,13.89 4.17,8.98 0.46,5.61 5.44,5.07" fill="#d4b82c" stroke="#d4b82c" stroke-width="1.1" stroke-linejoin="round"/></svg>
<svg class="a" style="left:164px;top:341.5px;" width="12.5" height="12.5" viewBox="0 0 12.5 12.5"><path d="M2 0.8H10.5Q11.7 0.8 11.7 2V7.8L7.8 11.7H2Q0.8 11.7 0.8 10.5V2Q0.8 0.8 2 0.8Z" stroke="#444" stroke-width="1.5" fill="none" stroke-linejoin="round"/><path d="M11.7 7.8H8.8Q7.8 7.8 7.8 8.8V11.7" stroke="#444" stroke-width="1.4" fill="none"/></svg>
<svg class="a" style="left:191.5px;top:342.0px;" width="3" height="11" viewBox="0 0 3 11"><circle cx="1.5" cy="1.4" r="1.3" fill="#333"/><circle cx="1.5" cy="5.5" r="1.3" fill="#333"/><circle cx="1.5" cy="9.6" r="1.3" fill="#333"/></svg>
<div class="t " style="left:232px;top:341.35px;font-size:14.0px;line-height:14.0px;color:#515151;font-weight:normal;transform:scaleX(1.0262);transform-origin:0 0;">John</div>
<div class="t " style="left:426px;top:341.35px;font-size:14.0px;line-height:14.0px;color:#515151;font-weight:normal;transform:scaleX(0.9880);transform-origin:0 0;">Lennon</div>
<div class="t " style="left:619px;top:341.35px;font-size:14.0px;line-height:14.0px;color:#515151;font-weight:normal;transform:scaleX(1.0231);transform-origin:0 0;">Applicant</div>
<div class="t " style="left:840px;top:341.35px;font-size:14.0px;line-height:14.0px;color:#515151;font-weight:normal;transform:scaleX(0.9695);transform-origin:0 0;">Driver</div>
<div class="t " style="left:1073px;top:341.35px;font-size:14.0px;line-height:14.0px;color:#515151;font-weight:normal;transform:scaleX(0.9497);transform-origin:0 0;">Cleveland, OH</div>
<div class="t " style="left:1281px;top:341.35px;font-size:14.0px;line-height:14.0px;color:#515151;font-weight:normal;transform:scaleX(1.0107);transform-origin:0 0;">356</div>
<div class="t " style="left:1527.5px;top:344.03px;font-size:10.6px;line-height:10.6px;color:#6a6a6a;font-weight:normal;font-style:italic;transform:scaleX(0.9599);transform-origin:0 0;">None</div>
<div class="t " style="left:1682px;top:341.35px;font-size:14.0px;line-height:14.0px;color:#515151;font-weight:normal;transform:scaleX(0.9698);transform-origin:0 0;">Glenn, John</div>
<div class="a" style="left:106px;top:379.5px;width:12.5px;height:12.5px;border:1.6px solid #444;border-radius:1.5px;box-sizing:border-box"></div>
<svg class="a" style="left:133.5px;top:378.2px;" width="15" height="15" viewBox="0 0 15 15"><polygon points="7.50,0.50 9.56,5.07 14.54,5.61 10.83,8.98 11.85,13.89 7.50,11.40 3.15,13.89 4.17,8.98 0.46,5.61 5.44,5.07" fill="none" stroke="#444" stroke-width="1.3" stroke-linejoin="round"/></svg>
<svg class="a" style="left:164px;top:379.5px;" width="12.5" height="12.5" viewBox="0 0 12.5 12.5"><path d="M2 0.8H10.5Q11.7 0.8 11.7 2V7.8L7.8 11.7H2Q0.8 11.7 0.8 10.5V2Q0.8 0.8 2 0.8Z" stroke="#444" stroke-width="1.5" fill="none" stroke-linejoin="round"/><path d="M11.7 7.8H8.8Q7.8 7.8 7.8 8.8V11.7" stroke="#444" stroke-width="1.4" fill="none"/></svg>
<svg class="a" style="left:191.5px;top:380.0px;" width="3" height="11" viewBox="0 0 3 11"><circle cx="1.5" cy="1.4" r="1.3" fill="#333"/><circle cx="1.5" cy="5.5" r="1.3" fill="#333"/><circle cx="1.5" cy="9.6" r="1.3" fill="#333"/></svg>
<div class="t " style="left:232px;top:379.35px;font-size:14.0px;line-height:14.0px;color:#515151;font-weight:normal;transform:scaleX(1.0309);transform-origin:0 0;">Julie</div>
<div class="t " style="left:426px;top:379.35px;font-size:14.0px;line-height:14.0px;color:#515151;font-weight:normal;transform:scaleX(1.0117);transform-origin:0 0;">Thomas</div>
<div class="t " style="left:619px;top:379.35px;font-size:14.0px;line-height:14.0px;color:#515151;font-weight:normal;transform:scaleX(1.0231);transform-origin:0 0;">Applicant</div>
<div class="t " style="left:840px;top:379.35px;font-size:14.0px;line-height:14.0px;color:#515151;font-weight:normal;transform:scaleX(0.9695);transform-origin:0 0;">Driver</div>
<div class="t " style="left:1073px;top:379.35px;font-size:14.0px;line-height:14.0px;color:#515151;font-weight:normal;transform:scaleX(0.9908);transform-origin:0 0;">Pittsburgh, PA</div>
<div class="t " style="left:1281px;top:379.35px;font-size:14.0px;line-height:14.0px;color:#515151;font-weight:normal;transform:scaleX(1.0107);transform-origin:0 0;">370</div>
<div class="t " style="left:1527.5px;top:382.03px;font-size:10.6px;line-height:10.6px;color:#6a6a6a;font-weight:normal;font-style:italic;transform:scaleX(0.9599);transform-origin:0 0;">None</div>
<div class="t " style="left:1682px;top:379.35px;font-size:14.0px;line-height:14.0px;color:#515151;font-weight:normal;transform:scaleX(0.9698);transform-origin:0 0;">Glenn, John</div>
<div class="a" style="left:106px;top:417.5px;width:12.5px;height:12.5px;border:1.6px solid #444;border-radius:1.5px;box-sizing:border-box"></div>
<svg class="a" style="left:133.5px;top:416.2px;" width="15" height="15" viewBox="0 0 15 15"><polygon points="7.50,0.50 9.56,5.07 14.54,5.61 10.83,8.98 11.85,13.89 7.50,11.40 3.15,13.89 4.17,8.98 0.46,5.61 5.44,5.07" fill="none" stroke="#444" stroke-width="1.3" stroke-linejoin="round"/></svg>
<svg class="a" style="left:164px;top:417.5px;" width="12.5" height="12.5" viewBox="0 0 12.5 12.5"><path d="M2 0.8H10.5Q11.7 0.8 11.7 2V7.8L7.8 11.7H2Q0.8 11.7 0.8 10.5V2Q0.8 0.8 2 0.8Z" stroke="#444" stroke-width="1.5" fill="none" stroke-linejoin="round"/><path d="M11.7 7.8H8.8Q7.8 7.8 7.8 8.8V11.7" stroke="#444" stroke-width="1.4" fill="none"/></svg>
<svg class="a" style="left:191.5px;top:418.0px;" width="3" height="11" viewBox="0 0 3 11"><circle cx="1.5" cy="1.4" r="1.3" fill="#333"/><circle cx="1.5" cy="5.5" r="1.3" fill="#333"/><circle cx="1.5" cy="9.6" r="1.3" fill="#333"/></svg>
<div class="t " style="left:232px;top:417.35px;font-size:14.0px;line-height:14.0px;color:#515151;font-weight:normal;transform:scaleX(0.9787);transform-origin:0 0;">Oscar</div>
<div class="t " style="left:426px;top:417.35px;font-size:14.0px;line-height:14.0px;color:#515151;font-weight:normal;transform:scaleX(1.0055);transform-origin:0 0;">McDonald</div>
<div class="t " style="left:619px;top:417.35px;font-size:14.0px;line-height:14.0px;color:#515151;font-weight:normal;transform:scaleX(0.9905);transform-origin:0 0;">Applicant: Safety Screening</div>
<div class="t " style="left:840px;top:417.35px;font-size:14.0px;line-height:14.0px;color:#515151;font-weight:normal;transform:scaleX(0.9695);transform-origin:0 0;">Driver</div>
<div class="t " style="left:1073px;top:417.35px;font-size:14.0px;line-height:14.0px;color:#515151;font-weight:normal;transform:scaleX(0.9908);transform-origin:0 0;">Pittsburgh, PA</div>
<div class="t " style="left:1281px;top:417.35px;font-size:14.0px;line-height:14.0px;color:#515151;font-weight:normal;transform:scaleX(1.0107);transform-origin:0 0;">370</div>
<div class="t " style="left:1527.5px;top:420.03px;font-size:10.6px;line-height:10.6px;color:#6a6a6a;font-weight:normal;font-style:italic;transform:scaleX(0.9599);transform-origin:0 0;">None</div>
<div class="t " style="left:1682px;top:417.35px;font-size:14.0px;line-height:14.0px;color:#515151;font-weight:normal;transform:scaleX(0.9698);transform-origin:0 0;">Glenn, John</div>
<div class="a" style="left:106px;top:455.5px;width:12.5px;height:12.5px;border:1.6px solid #444;border-radius:1.5px;box-sizing:border-box"></div>
<svg class="a" style="left:133.5px;top:454.2px;" width="15" height="15" viewBox="0 0 15 15"><polygon points="7.50,0.50 9.56,5.07 14.54,5.61 10.83,8.98 11.85,13.89 7.50,11.40 3.15,13.89 4.17,8.98 0.46,5.61 5.44,5.07" fill="none" stroke="#444" stroke-width="1.3" stroke-linejoin="round"/></svg>
<svg class="a" style="left:164px;top:455.5px;" width="12.5" height="12.5" viewBox="0 0 12.5 12.5"><path d="M2 0.8H10.5Q11.7 0.8 11.7 2V7.8L7.8 11.7H2Q0.8 11.7 0.8 10.5V2Q0.8 0.8 2 0.8Z" stroke="#444" stroke-width="1.5" fill="none" stroke-linejoin="round"/><path d="M11.7 7.8H8.8Q7.8 7.8 7.8 8.8V11.7" stroke="#444" stroke-width="1.4" fill="none"/></svg>
<svg class="a" style="left:191.5px;top:456.0px;" width="3" height="11" viewBox="0 0 3 11"><circle cx="1.5" cy="1.4" r="1.3" fill="#333"/><circle cx="1.5" cy="5.5" r="1.3" fill="#333"/><circle cx="1.5" cy="9.6" r="1.3" fill="#333"/></svg>
<div class="t " style="left:232px;top:455.35px;font-size:14.0px;line-height:14.0px;color:#515151;font-weight:normal;transform:scaleX(1.0264);transform-origin:0 0;">Jose</div>
<div class="t " style="left:426px;top:455.35px;font-size:14.0px;line-height:14.0px;color:#515151;font-weight:normal;transform:scaleX(0.9843);transform-origin:0 0;">Turner</div>
<div class="t " style="left:619px;top:455.35px;font-size:14.0px;line-height:14.0px;color:#515151;font-weight:normal;transform:scaleX(0.9763);transform-origin:0 0;">Banked</div>
<div class="t " style="left:840px;top:455.35px;font-size:14.0px;line-height:14.0px;color:#515151;font-weight:normal;transform:scaleX(0.9695);transform-origin:0 0;">Driver</div>
<div class="t " style="left:1073px;top:455.35px;font-size:14.0px;line-height:14.0px;color:#515151;font-weight:normal;transform:scaleX(0.9497);transform-origin:0 0;">Cleveland, OH</div>
<div class="t " style="left:1281px;top:455.35px;font-size:14.0px;line-height:14.0px;color:#515151;font-weight:normal;transform:scaleX(1.0107);transform-origin:0 0;">370</div>
<div class="t " style="left:1527.5px;top:458.03px;font-size:10.6px;line-height:10.6px;color:#6a6a6a;font-weight:normal;font-style:italic;transform:scaleX(0.9599);transform-origin:0 0;">None</div>
<div class="t " style="left:1682px;top:455.35px;font-size:14.0px;line-height:14.0px;color:#515151;font-weight:normal;transform:scaleX(0.9709);transform-origin:0 0;">Cox, Kristen</div>
<div class="a" style="left:106px;top:493.5px;width:12.5px;height:12.5px;border:1.6px solid #444;border-radius:1.5px;box-sizing:border-box"></div>
<svg class="a" style="left:133.5px;top:492.2px;" width="15" height="15" viewBox="0 0 15 15"><polygon points="7.50,0.50 9.56,5.07 14.54,5.61 10.83,8.98 11.85,13.89 7.50,11.40 3.15,13.89 4.17,8.98 0.46,5.61 5.44,5.07" fill="none" stroke="#444" stroke-width="1.3" stroke-linejoin="round"/></svg>
<svg class="a" style="left:164px;top:493.5px;" width="12.5" height="12.5" viewBox="0 0 12.5 12.5"><path d="M2 0.8H10.5Q11.7 0.8 11.7 2V7.8L7.8 11.7H2Q0.8 11.7 0.8 10.5V2Q0.8 0.8 2 0.8Z" stroke="#444" stroke-width="1.5" fill="none" stroke-linejoin="round"/><path d="M11.7 7.8H8.8Q7.8 7.8 7.8 8.8V11.7" stroke="#444" stroke-width="1.4" fill="none"/></svg>
<svg class="a" style="left:191.5px;top:494.0px;" width="3" height="11" viewBox="0 0 3 11"><circle cx="1.5" cy="1.4" r="1.3" fill="#333"/><circle cx="1.5" cy="5.5" r="1.3" fill="#333"/><circle cx="1.5" cy="9.6" r="1.3" fill="#333"/></svg>
<div class="t " style="left:232px;top:493.35px;font-size:14.0px;line-height:14.0px;color:#515151;font-weight:normal;transform:scaleX(1.0496);transform-origin:0 0;">Justin</div>
<div class="t " style="left:426px;top:493.35px;font-size:14.0px;line-height:14.0px;color:#515151;font-weight:normal;transform:scaleX(1.0051);transform-origin:0 0;">Christian</div>
<div class="t " style="left:619px;top:493.35px;font-size:14.0px;line-height:14.0px;color:#515151;font-weight:normal;transform:scaleX(1.0231);transform-origin:0 0;">Applicant</div>
<div class="t " style="left:840px;top:493.35px;font-size:14.0px;line-height:14.0px;color:#515151;font-weight:normal;transform:scaleX(0.9695);transform-origin:0 0;">Driver</div>
<div class="t " style="left:1073px;top:493.35px;font-size:14.0px;line-height:14.0px;color:#515151;font-weight:normal;transform:scaleX(0.9497);transform-origin:0 0;">Cleveland, OH</div>
<div class="t " style="left:1281px;top:493.35px;font-size:14.0px;line-height:14.0px;color:#515151;font-weight:normal;transform:scaleX(1.0107);transform-origin:0 0;">370</div>
<div class="t " style="left:1527.5px;top:496.03px;font-size:10.6px;line-height:10.6px;color:#6a6a6a;font-weight:normal;font-style:italic;transform:scaleX(0.9599);transform-origin:0 0;">None</div>
<div class="t " style="left:1682px;top:493.35px;font-size:14.0px;line-height:14.0px;color:#515151;font-weight:normal;transform:scaleX(0.9709);transform-origin:0 0;">Cox, Kristen</div>
<div class="a" style="left:106px;top:531.5px;width:12.5px;height:12.5px;border:1.6px solid #444;border-radius:1.5px;box-sizing:border-box"></div>
<svg class="a" style="left:133.5px;top:530.2px;" width="15" height="15" viewBox="0 0 15 15"><polygon points="7.50,0.50 9.56,5.07 14.54,5.61 10.83,8.98 11.85,13.89 7.50,11.40 3.15,13.89 4.17,8.98 0.46,5.61 5.44,5.07" fill="none" stroke="#444" stroke-width="1.3" stroke-linejoin="round"/></svg>
<svg class="a" style="left:164px;top:531.5px;" width="12.5" height="12.5" viewBox="0 0 12.5 12.5"><path d="M2 0.8H10.5Q11.7 0.8 11.7 2V7.8L7.8 11.7H2Q0.8 11.7 0.8 10.5V2Q0.8 0.8 2 0.8Z" stroke="#444" stroke-width="1.5" fill="none" stroke-linejoin="round"/><path d="M11.7 7.8H8.8Q7.8 7.8 7.8 8.8V11.7" stroke="#444" stroke-width="1.4" fill="none"/></svg>
<svg class="a" style="left:191.5px;top:532.0px;" width="3" height="11" viewBox="0 0 3 11"><circle cx="1.5" cy="1.4" r="1.3" fill="#333"/><circle cx="1.5" cy="5.5" r="1.3" fill="#333"/><circle cx="1.5" cy="9.6" r="1.3" fill="#333"/></svg>
<div class="t " style="left:232px;top:531.35px;font-size:14.0px;line-height:14.0px;color:#515151;font-weight:normal;transform:scaleX(0.9625);transform-origin:0 0;">Devin</div>
<div class="t " style="left:426px;top:531.35px;font-size:14.0px;line-height:14.0px;color:#515151;font-weight:normal;transform:scaleX(1.0113);transform-origin:0 0;">Morales</div>
<div class="t " style="left:619px;top:531.35px;font-size:14.0px;line-height:14.0px;color:#515151;font-weight:normal;transform:scaleX(1.0035);transform-origin:0 0;">Applicant: New</div>
<div class="t " style="left:840px;top:531.35px;font-size:14.0px;line-height:14.0px;color:#515151;font-weight:normal;transform:scaleX(1.0141);transform-origin:0 0;">Mechanic</div>
<div class="t " style="left:1073px;top:531.35px;font-size:14.0px;line-height:14.0px;color:#515151;font-weight:normal;transform:scaleX(0.9908);transform-origin:0 0;">Pittsburgh, PA</div>
<div class="t " style="left:1281px;top:531.35px;font-size:14.0px;line-height:14.0px;color:#515151;font-weight:normal;transform:scaleX(1.0107);transform-origin:0 0;">370</div>
<div class="t " style="left:1527.5px;top:534.03px;font-size:10.6px;line-height:10.6px;color:#6a6a6a;font-weight:normal;font-style:italic;transform:scaleX(0.9599);transform-origin:0 0;">None</div>
<div class="t " style="left:1682px;top:531.35px;font-size:14.0px;line-height:14.0px;color:#515151;font-weight:normal;transform:scaleX(0.9698);transform-origin:0 0;">Glenn, John</div>
<div class="a" style="left:106px;top:569.5px;width:12.5px;height:12.5px;border:1.6px solid #444;border-radius:1.5px;box-sizing:border-box"></div>
<svg class="a" style="left:133.5px;top:568.2px;" width="15" height="15" viewBox="0 0 15 15"><polygon points="7.50,0.50 9.56,5.07 14.54,5.61 10.83,8.98 11.85,13.89 7.50,11.40 3.15,13.89 4.17,8.98 0.46,5.61 5.44,5.07" fill="none" stroke="#444" stroke-width="1.3" stroke-linejoin="round"/></svg>
<svg class="a" style="left:164px;top:569.5px;" width="12.5" height="12.5" viewBox="0 0 12.5 12.5"><path d="M2 0.8H10.5Q11.7 0.8 11.7 2V7.8L7.8 11.7H2Q0.8 11.7 0.8 10.5V2Q0.8 0.8 2 0.8Z" stroke="#444" stroke-width="1.5" fill="none" stroke-linejoin="round"/><path d="M11.7 7.8H8.8Q7.8 7.8 7.8 8.8V11.7" stroke="#444" stroke-width="1.4" fill="none"/></svg>
<svg class="a" style="left:191.5px;top:570.0px;" width="3" height="11" viewBox="0 0 3 11"><circle cx="1.5" cy="1.4" r="1.3" fill="#333"/><circle cx="1.5" cy="5.5" r="1.3" fill="#333"/><circle cx="1.5" cy="9.6" r="1.3" fill="#333"/></svg>
<div class="t " style="left:232px;top:569.35px;font-size:14px;line-height:14px;color:#484848;font-weight:bold;">Tina</div>
<div class="t " style="left:426px;top:569.35px;font-size:14px;line-height:14px;color:#484848;font-weight:bold;">Trevilino</div>
<div class="t " style="left:619px;top:569.35px;font-size:14px;line-height:14px;color:#484848;font-weight:bold;">Applicant: Management …</div>
<div class="t " style="left:840px;top:569.35px;font-size:14px;line-height:14px;color:#484848;font-weight:bold;">Independent Contractor</div>
<div class="t " style="left:1073px;top:569.35px;font-size:14px;line-height:14px;color:#484848;font-weight:bold;">Pittsburgh, PA</div>
<div class="t " style="left:1281px;top:569.35px;font-size:14px;line-height:14px;color:#484848;font-weight:bold;">370</div>
<div class="t " style="left:1527.5px;top:572.03px;font-size:10.6px;line-height:10.6px;color:#5e5e5e;font-weight:normal;-webkit-text-stroke:0.25px #5e5e5e;font-style:italic;transform:scaleX(0.9611);transform-origin:0 0;">None</div>
<div class="t " style="left:1682px;top:569.35px;font-size:14px;line-height:14px;color:#484848;font-weight:bold;">Glenn, John</div>
<div class="a" style="left:106px;top:607.5px;width:12.5px;height:12.5px;border:1.6px solid #444;border-radius:1.5px;box-sizing:border-box"></div>
<svg class="a" style="left:133.5px;top:606.2px;" width="15" height="15" viewBox="0 0 15 15"><polygon points="7.50,0.50 9.56,5.07 14.54,5.61 10.83,8.98 11.85,13.89 7.50,11.40 3.15,13.89 4.17,8.98 0.46,5.61 5.44,5.07" fill="none" stroke="#444" stroke-width="1.3" stroke-linejoin="round"/></svg>
<svg class="a" style="left:164px;top:607.5px;" width="12.5" height="12.5" viewBox="0 0 12.5 12.5"><path d="M2 0.8H10.5Q11.7 0.8 11.7 2V7.8L7.8 11.7H2Q0.8 11.7 0.8 10.5V2Q0.8 0.8 2 0.8Z" stroke="#444" stroke-width="1.5" fill="none" stroke-linejoin="round"/><path d="M11.7 7.8H8.8Q7.8 7.8 7.8 8.8V11.7" stroke="#444" stroke-width="1.4" fill="none"/></svg>
<svg class="a" style="left:191.5px;top:608.0px;" width="3" height="11" viewBox="0 0 3 11"><circle cx="1.5" cy="1.4" r="1.3" fill="#333"/><circle cx="1.5" cy="5.5" r="1.3" fill="#333"/><circle cx="1.5" cy="9.6" r="1.3" fill="#333"/></svg>
<div class="t " style="left:232px;top:607.35px;font-size:14px;line-height:14px;color:#484848;font-weight:bold;">Kevin</div>
<div class="t " style="left:426px;top:607.35px;font-size:14px;line-height:14px;color:#484848;font-weight:bold;">Pugh</div>
<div class="t " style="left:619px;top:607.35px;font-size:14px;line-height:14px;color:#484848;font-weight:bold;">Offer</div>
<div class="t " style="left:840px;top:607.35px;font-size:14px;line-height:14px;color:#484848;font-weight:bold;">Independent Contractor</div>
<div class="t " style="left:1073px;top:607.35px;font-size:14px;line-height:14px;color:#484848;font-weight:bold;">Pittsburgh, PA</div>
<div class="t " style="left:1281px;top:607.35px;font-size:14px;line-height:14px;color:#484848;font-weight:bold;">370</div>
<div class="t " style="left:1527.5px;top:610.03px;font-size:10.6px;line-height:10.6px;color:#5e5e5e;font-weight:normal;-webkit-text-stroke:0.25px #5e5e5e;font-style:italic;transform:scaleX(0.9611);transform-origin:0 0;">None</div>
<div class="t " style="left:1682px;top:607.35px;font-size:14px;line-height:14px;color:#484848;font-weight:bold;">Glenn, John</div>
<div class="a" style="left:106px;top:645.5px;width:12.5px;height:12.5px;border:1.6px solid #444;border-radius:1.5px;box-sizing:border-box"></div>
<svg class="a" style="left:133.5px;top:644.2px;" width="15" height="15" viewBox="0 0 15 15"><polygon points="7.50,0.50 9.56,5.07 14.54,5.61 10.83,8.98 11.85,13.89 7.50,11.40 3.15,13.89 4.17,8.98 0.46,5.61 5.44,5.07" fill="none" stroke="#444" stroke-width="1.3" stroke-linejoin="round"/></svg>
<svg class="a" style="left:164px;top:645.5px;" width="12.5" height="12.5" viewBox="0 0 12.5 12.5"><path d="M2 0.8H10.5Q11.7 0.8 11.7 2V7.8L7.8 11.7H2Q0.8 11.7 0.8 10.5V2Q0.8 0.8 2 0.8Z" stroke="#444" stroke-width="1.5" fill="none" stroke-linejoin="round"/><path d="M11.7 7.8H8.8Q7.8 7.8 7.8 8.8V11.7" stroke="#444" stroke-width="1.4" fill="none"/></svg>
<svg class="a" style="left:191.5px;top:646.0px;" width="3" height="11" viewBox="0 0 3 11"><circle cx="1.5" cy="1.4" r="1.3" fill="#333"/><circle cx="1.5" cy="5.5" r="1.3" fill="#333"/><circle cx="1.5" cy="9.6" r="1.3" fill="#333"/></svg>
<div class="t " style="left:232px;top:645.35px;font-size:14px;line-height:14px;color:#484848;font-weight:bold;">Jose</div>
<div class="t " style="left:426px;top:645.35px;font-size:14px;line-height:14px;color:#484848;font-weight:bold;">Torres</div>
<div class="t " style="left:619px;top:645.35px;font-size:14px;line-height:14px;color:#484848;font-weight:bold;">Offer</div>
<div class="t " style="left:840px;top:645.35px;font-size:14px;line-height:14px;color:#484848;font-weight:bold;">Driver</div>
<div class="t " style="left:1073px;top:645.35px;font-size:14px;line-height:14px;color:#484848;font-weight:bold;">Pittsburgh, PA</div>
<div class="t " style="left:1281px;top:645.35px;font-size:14px;line-height:14px;color:#484848;font-weight:bold;">370</div>
<div class="t " style="left:1527.5px;top:648.03px;font-size:10.6px;line-height:10.6px;color:#5e5e5e;font-weight:normal;-webkit-text-stroke:0.25px #5e5e5e;font-style:italic;transform:scaleX(0.9611);transform-origin:0 0;">None</div>
<div class="t " style="left:1682px;top:645.35px;font-size:14px;line-height:14px;color:#484848;font-weight:bold;">Glenn, John</div>
<div class="a" style="left:106px;top:683.5px;width:12.5px;height:12.5px;border:1.6px solid #444;border-radius:1.5px;box-sizing:border-box"></div>
<svg class="a" style="left:133.5px;top:682.2px;" width="15" height="15" viewBox="0 0 15 15"><polygon points="7.50,0.50 9.56,5.07 14.54,5.61 10.83,8.98 11.85,13.89 7.50,11.40 3.15,13.89 4.17,8.98 0.46,5.61 5.44,5.07" fill="none" stroke="#444" stroke-width="1.3" stroke-linejoin="round"/></svg>
<svg class="a" style="left:164px;top:683.5px;" width="12.5" height="12.5" viewBox="0 0 12.5 12.5"><path d="M2 0.8H10.5Q11.7 0.8 11.7 2V7.8L7.8 11.7H2Q0.8 11.7 0.8 10.5V2Q0.8 0.8 2 0.8Z" stroke="#444" stroke-width="1.5" fill="none" stroke-linejoin="round"/><path d="M11.7 7.8H8.8Q7.8 7.8 7.8 8.8V11.7" stroke="#444" stroke-width="1.4" fill="none"/></svg>
<svg class="a" style="left:191.5px;top:684.0px;" width="3" height="11" viewBox="0 0 3 11"><circle cx="1.5" cy="1.4" r="1.3" fill="#333"/><circle cx="1.5" cy="5.5" r="1.3" fill="#333"/><circle cx="1.5" cy="9.6" r="1.3" fill="#333"/></svg>
<div class="t " style="left:232px;top:683.35px;font-size:14.0px;line-height:14.0px;color:#515151;font-weight:normal;transform:scaleX(0.9728);transform-origin:0 0;">Denise</div>
<div class="t " style="left:426px;top:683.35px;font-size:14.0px;line-height:14.0px;color:#515151;font-weight:normal;transform:scaleX(1.0140);transform-origin:0 0;">Smith</div>
<div class="t " style="left:619px;top:683.35px;font-size:14.0px;line-height:14.0px;color:#515151;font-weight:normal;transform:scaleX(1.0035);transform-origin:0 0;">Applicant: New</div>
<div class="t " style="left:840px;top:683.35px;font-size:14.0px;line-height:14.0px;color:#515151;font-weight:normal;transform:scaleX(0.9695);transform-origin:0 0;">Driver</div>
<div class="t " style="left:1073px;top:683.35px;font-size:14.0px;line-height:14.0px;color:#515151;font-weight:normal;transform:scaleX(0.9908);transform-origin:0 0;">Pittsburgh, PA</div>
<div class="t " style="left:1281px;top:683.35px;font-size:14.0px;line-height:14.0px;color:#515151;font-weight:normal;transform:scaleX(1.0107);transform-origin:0 0;">370</div>
<div class="t " style="left:1527.5px;top:686.03px;font-size:10.6px;line-height:10.6px;color:#6a6a6a;font-weight:normal;font-style:italic;transform:scaleX(0.9599);transform-origin:0 0;">None</div>
<div class="t " style="left:1682px;top:683.35px;font-size:14.0px;line-height:14.0px;color:#515151;font-weight:normal;transform:scaleX(0.9698);transform-origin:0 0;">Glenn, John</div>
<div class="a" style="left:106px;top:721.5px;width:12.5px;height:12.5px;border:1.6px solid #444;border-radius:1.5px;box-sizing:border-box"></div>
<svg class="a" style="left:133.5px;top:720.2px;" width="15" height="15" viewBox="0 0 15 15"><polygon points="7.50,0.50 9.56,5.07 14.54,5.61 10.83,8.98 11.85,13.89 7.50,11.40 3.15,13.89 4.17,8.98 0.46,5.61 5.44,5.07" fill="none" stroke="#444" stroke-width="1.3" stroke-linejoin="round"/></svg>
<svg class="a" style="left:164px;top:721.5px;" width="12.5" height="12.5" viewBox="0 0 12.5 12.5"><path d="M2 0.8H10.5Q11.7 0.8 11.7 2V7.8L7.8 11.7H2Q0.8 11.7 0.8 10.5V2Q0.8 0.8 2 0.8Z" stroke="#444" stroke-width="1.5" fill="none" stroke-linejoin="round"/><path d="M11.7 7.8H8.8Q7.8 7.8 7.8 8.8V11.7" stroke="#444" stroke-width="1.4" fill="none"/></svg>
<svg class="a" style="left:191.5px;top:722.0px;" width="3" height="11" viewBox="0 0 3 11"><circle cx="1.5" cy="1.4" r="1.3" fill="#333"/><circle cx="1.5" cy="5.5" r="1.3" fill="#333"/><circle cx="1.5" cy="9.6" r="1.3" fill="#333"/></svg>
<div class="t " style="left:232px;top:721.35px;font-size:14px;line-height:14px;color:#484848;font-weight:bold;">Dennis</div>
<div class="t " style="left:426px;top:721.35px;font-size:14px;line-height:14px;color:#484848;font-weight:bold;">Ross</div>
<div class="t " style="left:619px;top:721.35px;font-size:14px;line-height:14px;color:#484848;font-weight:bold;">Applicant: New</div>
<div class="t " style="left:840px;top:721.35px;font-size:14px;line-height:14px;color:#484848;font-weight:bold;">Driver</div>
<div class="t " style="left:1073px;top:721.35px;font-size:14px;line-height:14px;color:#484848;font-weight:bold;">Pittsburgh, PA</div>
<div class="t " style="left:1281px;top:721.35px;font-size:14px;line-height:14px;color:#484848;font-weight:bold;">370</div>
<div class="t " style="left:1527.5px;top:724.03px;font-size:10.6px;line-height:10.6px;color:#5e5e5e;font-weight:normal;-webkit-text-stroke:0.25px #5e5e5e;font-style:italic;transform:scaleX(0.9611);transform-origin:0 0;">None</div>
<div class="t " style="left:1682px;top:721.35px;font-size:14px;line-height:14px;color:#484848;font-weight:bold;">Glenn, John</div>
</div>
<div class="a" style="left:1466px;top:356px;width:45px;height:32px;background:#fff;border:1px solid #e6e6e6;box-shadow:0 1px 2px rgba(0,0,0,0.12)"></div>
<div class="t " style="left:1476.5px;top:365.15px;font-size:14.0px;line-height:14.0px;color:#333;font-weight:normal;transform:scaleX(1.0107);transform-origin:0 0;">356</div>
<div class="a" style="left:1891px;top:291px;width:15px;height:377px;background:#808080"></div>
<div class="a" style="left:72px;top:761px;width:1478px;height:15px;background:#808080"></div>
<div class="a" style="left:74px;top:234px;width:1807px;height:540px;border:15px solid #048db2;box-sizing:border-box"></div>
<svg class="a" style="left:1590px;top:125px;" width="225" height="85" viewBox="0 0 225 85"><path d="M9 35H142V5L216.5 42.5L142 80V50H9Z" fill="#048db2"/></svg>
<div class="t " style="left:82.3px;top:795.89px;font-size:12.3px;line-height:12.3px;color:#555;font-weight:normal;transform:scaleX(0.9967);transform-origin:0 0;">Showing</div>
<div class="t " style="left:141px;top:794.10px;font-size:13.0px;line-height:13.0px;color:#444;font-weight:normal;-webkit-text-stroke:0.2px #444;transform:scaleX(1.0216);transform-origin:0 0;">100</div>
<div class="t " style="left:174.5px;top:795.89px;font-size:12.3px;line-height:12.3px;color:#555;font-weight:normal;transform:scaleX(0.9762);transform-origin:0 0;">Results per Page</div>
<div class="t " style="left:888.5px;top:794.33px;font-size:10px;line-height:10px;color:#3aa0bd;font-weight:bold;letter-spacing:-0.5px;">&lt;&lt;</div>
<div class="t " style="left:938.8px;top:794.33px;font-size:10px;line-height:10px;color:#3aa0bd;font-weight:bold;">&lt;</div>
<div class="a" style="left:969px;top:778px;width:40px;height:40px;background:#3399b6;border-radius:9px"></div>
<div class="t " style="left:985.6px;top:792.63px;font-size:12.6px;line-height:12.6px;color:#e6f3f7;font-weight:normal;">1</div>
<div class="t " style="left:1032.6px;top:794.33px;font-size:10px;line-height:10px;color:#3aa0bd;font-weight:bold;">&gt;</div>
<div class="t " style="left:1076.8px;top:794.33px;font-size:10px;line-height:10px;color:#3aa0bd;font-weight:bold;letter-spacing:-0.5px;">&gt;&gt;</div>
<svg class="a" style="left:0px;top:824px;" width="10" height="10" viewBox="0 0 10 10"><path d="M0 1V10H9A9 9 0 0 1 0 1Z" fill="#000"/></svg>
<svg class="a" style="left:1905px;top:826px;" width="8" height="8" viewBox="0 0 8 8"><path d="M8 1V8H1A7 7 0 0 0 8 1Z" fill="#000"/></svg>
<div class="a" style="left:1857px;top:783px;width:50px;height:50px;background:#3d226b;border-radius:50%"></div>
<svg class="a" style="left:1857px;top:783px;" width="50" height="50" viewBox="0 0 50 50"><ellipse cx="29.3" cy="29.2" rx="8.7" ry="6.6" fill="#fff"/><path d="M32.5 34.2L38 35.3L35 31Z" fill="#fff"/><ellipse cx="21.3" cy="22.3" rx="9.3" ry="7.3" fill="#fff" stroke="#3d226b" stroke-width="1.7"/><path d="M14.5 27.5L11.6 30.2L17.8 29Z" fill="#fff"/></svg>
</body></html>
